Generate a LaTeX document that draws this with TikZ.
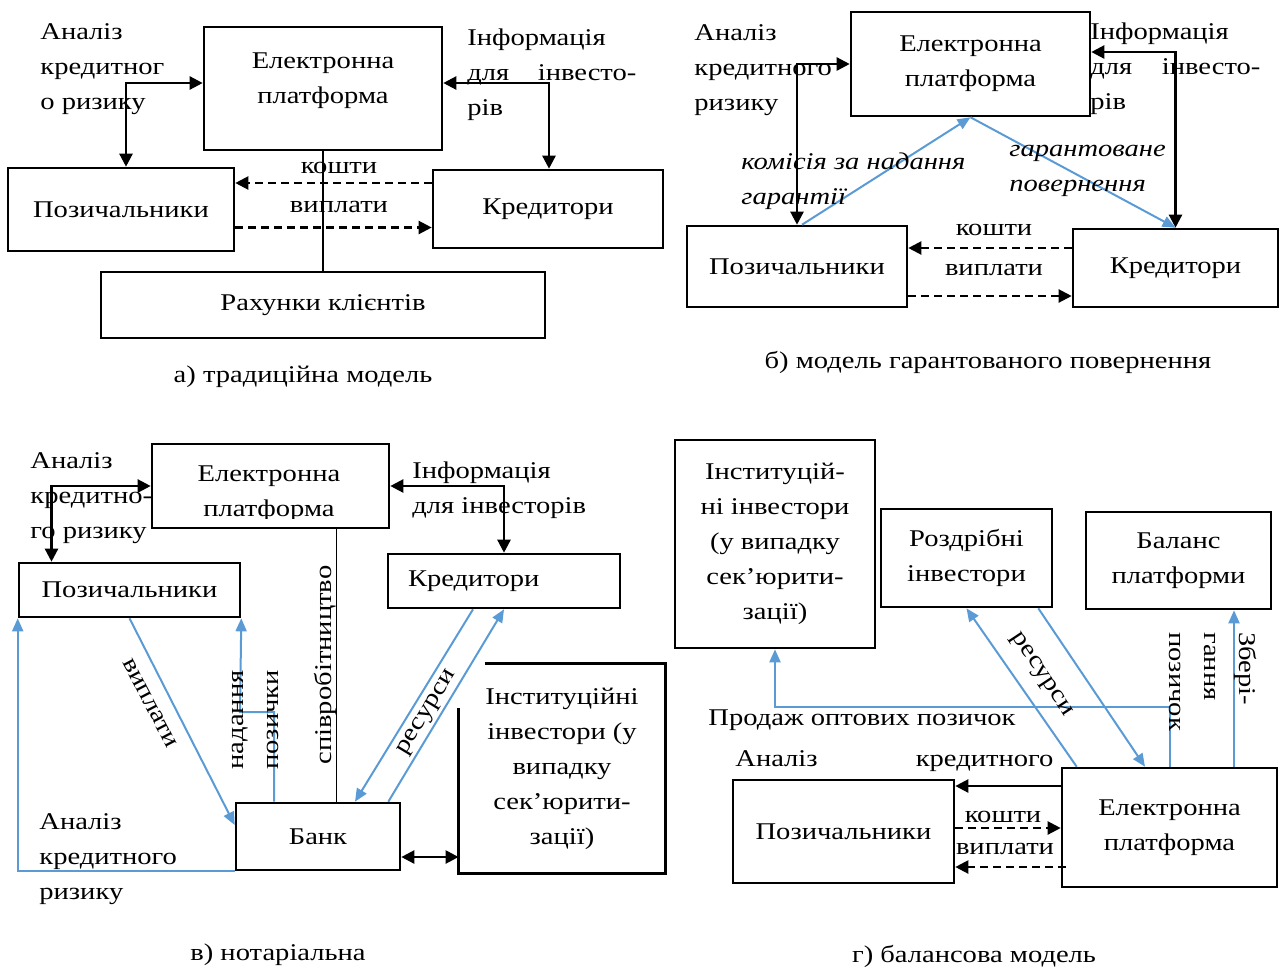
\documentclass[tikz,border=0pt]{standalone}
\usepackage{fontspec}
\setmainfont{Liberation Serif}[FakeStretch=1.19]
\usetikzlibrary{arrows.meta}
\definecolor{lblue}{RGB}{91,155,213}
\newcommand\figfont{\fontsize{12pt}{17.5pt}\selectfont}

\begin{document}
\begin{tikzpicture}[x=0.5pt,y=-0.5pt,font=\figfont,
    box/.style={draw,line width=1.3pt,inner sep=0pt,align=center},
    txt/.style={inner sep=0pt,align=left},
    blk/.style={line width=1.2pt,{Triangle[length=6.5pt,width=6.5pt]}-{Triangle[length=6.5pt,width=6.5pt]}},
    arr/.style={line width=1.2pt,-{Triangle[length=6.5pt,width=6.5pt]}},
    dsh/.style={line width=1.1pt,dash pattern=on 4pt off 2.5pt,-{Triangle[length=6.5pt,width=6.5pt]}},
    bl/.style={line width=1pt,lblue,-{Triangle[length=6.5pt,width=5.5pt]}}]
\useasboundingbox (0,0) rectangle (1279,970);

% ---------- a) traditional model
\node[box,minimum width=119pt,minimum height=61.5pt] (platA) at (323,88.5) {};
\node[align=center,inner sep=0pt] (platAtext) at (323,81) {Електронна\\платформа};
\node[box,minimum width=113pt,minimum height=41.5pt] (pozA) at (121,209.5) {Позичальники};
\node[box,minimum width=115pt,minimum height=39pt] (credA) at (548,209) {Кредитори};
\node[box,minimum width=222pt,minimum height=33pt] (accA) at (323,305) {Рахунки клієнтів};
\draw[line width=0.8pt] (platA.south) -- (accA.north);
\node[txt,anchor=north west] (anA) at (40,23) {Аналіз\\кредитног\\о ризику};
\node[txt,anchor=north west] (infA) at (467,28) {Інформація\\\makebox[84.5pt][s]{для\hfill інвесто-}\\рів};
\draw[blk] ([yshift=2.75pt]platA.west) -| ([xshift=2.5pt]pozA.north);
\draw[blk] ([yshift=2.75pt]platA.east) -| ([xshift=0.5pt]credA.north);
% money and payments
\draw[dsh] ([yshift=13pt]credA.west) -- ([yshift=13pt]credA.west -| pozA.east);
\draw[dsh] ([yshift=-9pt]pozA.east) -- ([yshift=-9pt]pozA.east -| credA.west);
\node (koshA) at (339,168) {кошти};
\node (vypA) at (339,207) {виплати};
\node (capA) at (303,377) {а) традиційна модель};

% ---------- b) guaranteed return model
\node[box,minimum width=119.5pt,minimum height=52pt] (platB) at (970.5,64) {Електронна\\платформа};
\node[box,minimum width=110pt,minimum height=40.5pt] (pozB) at (797,266.5) {Позичальники};
\node[box,minimum width=102.5pt,minimum height=39pt] (credB) at (1175.5,268) {Кредитори};
\node[txt,anchor=north west] (anB) at (694,24) {Аналіз\\кредитного\\ризику};
\node[txt,anchor=north west] (infB) at (1090,22) {Інформація\\\makebox[85pt][s]{для\hfill інвесто-}\\рів};
\draw[blk] (platB.west) -| (pozB.north);
\draw[blk] ([yshift=6pt]platB.east) -| (credB.north);
% guarantee
\draw[bl] ([xshift=2.5pt]pozB.north) -- (platB.south);
\draw[bl] (platB.south) -- (credB.north);
\node[txt,anchor=north west,font=\figfont\itshape] (feeB) at (741,152) {комісія за надання\\гарантії};
\node[txt,anchor=north west,font=\figfont\itshape] (retB) at (1009,145) {гарантоване\\повернення};
% money and payments
\draw[dsh] ([yshift=10pt]credB.west) -- ([yshift=10pt]credB.west -| pozB.east);
\draw[dsh] ([yshift=-14.75pt]pozB.east) -- ([yshift=-14.75pt]pozB.east -| credB.west);
\node (koshB) at (994,230) {кошти};
\node (vypB) at (994,270) {виплати};
\node (capB) at (988,362) {б) модель гарантованого повернення};

% ---------- c) notary model
\node[box,minimum width=118.5pt,minimum height=42pt] (platC) at (270.5,486) {};
\begin{scope}
  \clip (152,444) rectangle (389,518);
  \node[align=center,inner sep=0pt] (platCtext) at (269,493.5) {Електронна\\платформа};
\end{scope}
\node[box,minimum width=110.5pt,minimum height=27pt] (pozC) at (129.5,590) {Позичальники};
\node[box,minimum width=116pt,minimum height=27pt,text width=96pt,align=left] (credC) at (504,581) {Кредитори};
\node[box,minimum width=82pt,minimum height=33.5pt] (bankC) at (318,836.5) {Банк};
\node[minimum width=103pt,minimum height=104.5pt,inner sep=0pt,align=center] (instC) at (562,768.5) {Інституційні\\інвестори (у\\випадку\\сек’юрити-\\зації)};
\draw[line width=1.3pt] ([xshift=13pt]instC.north west) -- (instC.north east) -- (instC.south east)
  -- (instC.south west) -- ([yshift=-22pt]instC.north west);
\node[txt,anchor=north west] (anC) at (30,452) {Аналіз\\кредитно-\\го ризику};
\node[txt,anchor=north west] (infC) at (412,461) {Інформація\\для інвесторів};
\draw[blk] (platC.west) -| ([xshift=-39pt]pozC.north);
\draw[blk] (platC.east) -| (credC.north);
% cooperation
\draw[thin] ([xshift=33pt]platC.south) -- ([xshift=33pt]platC.south |- bankC.north);
\node[rotate=90] (coopC) at (325,665) {співробітництво};
% payments, loans, risk analysis
\draw[bl] (pozC.south) -- ([yshift=5.75pt]bankC.west);
\node[rotate=-62.5] (vypC) at (150,703) {виплати};
\coordinate (bendC) at (240,712);
\draw[bl] ([xshift=-22pt]bankC.north) |- (bendC) -- (pozC.south east);
\node[rotate=90,align=center] (loanC) at (255,720) {надання\\позички};
\draw[bl] (bankC.south west) -| (pozC.south west);
\node[txt,anchor=north west] (anC2) at (39,813) {Аналіз\\кредитного\\ризику};
% resources
\draw[bl] ([xshift=-15.5pt]credC.south) -- ([xshift=18.5pt]bankC.north);
\draw[bl] ([xshift=-6.5pt]bankC.north east) -- (credC.south);
\node[rotate=58.7] (resC) at (428,713) {ресурси};
\draw[blk] ([yshift=-10.25pt]bankC.east) -- ([yshift=-10.25pt]bankC.east -| instC.west);
\node (capC) at (278,955) {в) нотаріальна};

% ---------- d) balance sheet model
\node[box,minimum width=100pt,minimum height=104pt] (instD) at (775,544) {Інституцій-\\ні інвестори\\(у випадку\\сек’юрити-\\зації)};
\node[box,minimum width=85.5pt,minimum height=49pt] (retD) at (966.5,558) {Роздрібні\\інвестори};
\node[box,minimum width=92.5pt,minimum height=48.5pt] (balD) at (1178.5,560.5) {Баланс\\платформи};
\node[box,minimum width=110.5pt,minimum height=51.5pt] (pozD) at (843.5,831.5) {Позичальники};
\node[box,minimum width=107.5pt,minimum height=59.5pt] (platD) at (1169.5,827.5) {Електронна\\платформа};
\draw[arr] ([yshift=20.75pt]platD.west) -- ([yshift=20.75pt]platD.west -| pozD.east);
\node[anchor=base west,inner sep=0pt] (anD) at (735,766) {\makebox[159pt][s]{Аналіз\hfill кредитного}};
% money and payments
\draw[dsh] ([yshift=1.75pt]pozD.east) -- ([yshift=1.75pt]pozD.east -| platD.west);
\draw[dsh] ([xshift=2.5pt,yshift=-19.75pt]platD.west) -- ([yshift=-19.75pt]platD.west -| pozD.east);
\node (koshD) at (1003,817) {кошти};
\node (vypD) at (1005,849) {виплати};
% sale, resources, keeping
\draw[bl] (platD.north) -- ([yshift=30pt]platD.north) -| (instD.south);
\node[anchor=base west,inner sep=0pt] (saleD) at (708,725) {Продаж оптових позичок};
\draw[bl] ([xshift=8pt]platD.north west) -- (retD.south);
\draw[bl] ([xshift=-7.5pt]retD.south east) -- ([xshift=-12.25pt]platD.north);
\node[rotate=-56.5] (resD) at (1041,675) {ресурси};
\coordinate (balDin) at ([xshift=27.75pt]balD.south);
\draw[bl] (balDin |- platD.north) -- (balDin);
\node[rotate=-90,anchor=north west,align=left,inner sep=0pt] (keepD) at (1257,632) {Збері-\\гання\\позичок};
\node (capD) at (974,956) {г) балансова модель};
\end{tikzpicture}
\end{document}
